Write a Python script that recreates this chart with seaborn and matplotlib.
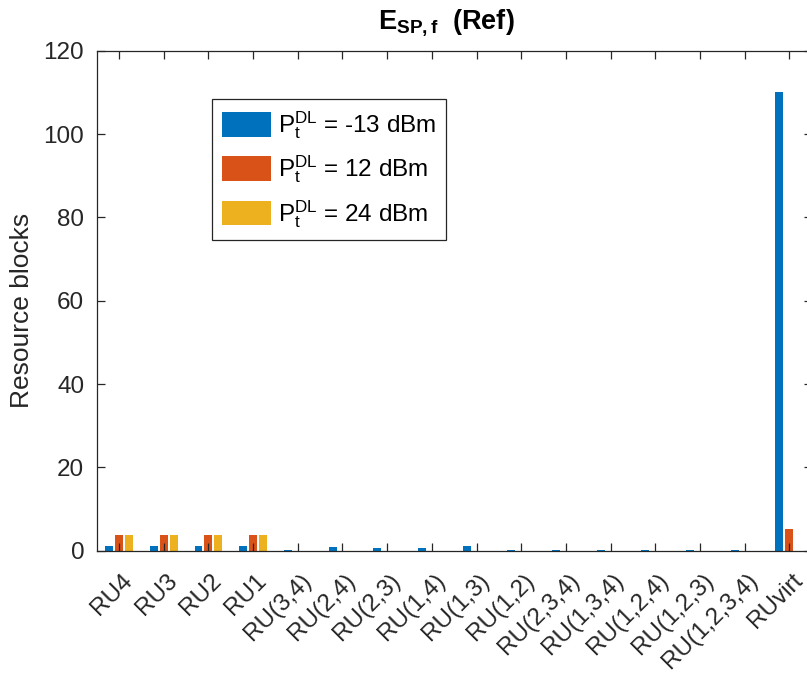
import matplotlib
matplotlib.use("Agg")
import matplotlib.pyplot as plt
import matplotlib.transforms as mtransforms
import seaborn as sns
import pandas as pd

categories = ["RU4", "RU3", "RU2", "RU1", "RU(3,4)", "RU(2,4)", "RU(2,3)", "RU(1,4)",
              "RU(1,3)", "RU(1,2)", "RU(2,3,4)", "RU(1,3,4)", "RU(1,2,4)", "RU(1,2,3)",
              "RU(1,2,3,4)", "RUvirt"]
series_names = [r"$\mathregular{P_t^{DL}}$ = -13 dBm",
                r"$\mathregular{P_t^{DL}}$ = 12 dBm",
                r"$\mathregular{P_t^{DL}}$ = 24 dBm"]
vals_m13 = [1.2, 1.2, 1.2, 1.2, 0.15, 1.0, 0.75, 0.7, 1.05, 0.15, 0.15, 0.15, 0.1, 0.1, 0.05, 110.0]
vals_12 = [3.8, 3.8, 3.8, 3.8, 0, 0, 0, 0, 0, 0, 0, 0, 0, 0, 0, 5.1]
vals_24 = [3.7, 3.7, 3.7, 3.7, 0, 0, 0, 0, 0, 0, 0, 0, 0, 0, 0, 0]
colors = ["#0072BD", "#D95319", "#EDB120"]
yticks = [0, 20, 40, 60, 80, 100, 120]

rows = []
for name, vals in zip(series_names, [vals_m13, vals_12, vals_24]):
    for c, v in zip(categories, vals):
        rows.append({"cat": c, "val": v, "series": name})
df = pd.DataFrame(rows)

sns.set_theme(style="ticks")
plt.rcParams["font.family"] = ["Liberation Sans", "DejaVu Sans"]
plt.rcParams["mathtext.fontset"] = "custom"
plt.rcParams["mathtext.rm"] = "Liberation Sans"
plt.rcParams["mathtext.it"] = "Liberation Sans:italic"
plt.rcParams["mathtext.bf"] = "Liberation Sans:bold"

fig = plt.figure(figsize=(8.07, 6.74), dpi=100)
ax = fig.add_axes([96.7 / 807, 1 - 550.7 / 674, 715 / 807, 500 / 674])

sns.barplot(data=df, x="cat", y="val", hue="series", order=categories,
            hue_order=series_names, palette=colors, width=0.667, gap=0.2,
            errorbar=None, saturation=1, edgecolor="none", ax=ax)

ax.set_axisbelow(False)
ax.set_xlim(-0.5, 15.5)
ax.set_ylim(0, 120)
ax.set_yticks(yticks)
ax.set_xlabel("")
ax.set_ylabel("Resource blocks", fontsize=19, color="#262626", va="center")
ax.yaxis.set_label_coords(-0.1045, 0.481)
ax.set_title(r"$\mathbf{E_{SP,f}}$  (Ref)", fontsize=19.5, fontweight="bold",
             color="black", pad=16, x=0.4885)

axc = "#262626"
for s in ax.spines.values():
    s.set_visible(True)
    s.set_color(axc)
    s.set_linewidth(0.9)
    s.set_zorder(5)
ax.tick_params(axis="both", direction="in", length=6, width=0.9, color=axc,
               labelsize=17.5, labelcolor=axc, top=True, right=True,
               bottom=True, left=True, zorder=6)
ax.tick_params(axis="x", pad=19)
ax.tick_params(axis="y", pad=9)
offset = mtransforms.ScaledTranslation(10 / 100, 0, fig.dpi_scale_trans)
for lab in ax.get_xticklabels():
    lab.set_rotation(45)
    lab.set_ha("right")
    lab.set_va("center")
    lab.set_rotation_mode("anchor")
    lab.set_transform(lab.get_transform() + offset)

leg = ax.legend(loc="upper left", bbox_to_anchor=(0.161, 0.903), borderaxespad=0,
                fontsize=17.5, frameon=True, fancybox=False, handlelength=2.0,
                handleheight=1.2, labelspacing=0.52, handletextpad=0.3,
                borderpad=0.42)
leg.get_frame().set_edgecolor(axc)
leg.get_frame().set_linewidth(0.9)
leg.get_frame().set_alpha(1)
for t in leg.get_texts():
    t.set_color("black")

fig.savefig("out.png", dpi=100)
